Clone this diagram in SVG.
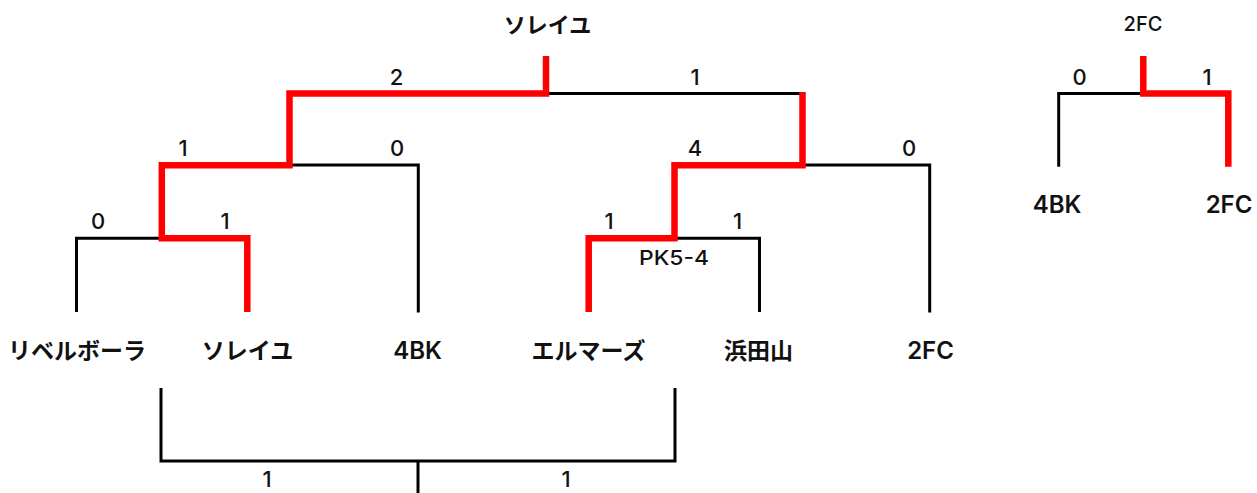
<svg xmlns="http://www.w3.org/2000/svg" width="1257" height="493" viewBox="0 0 1257 493">
<style>
  .bk { fill: none; stroke: #000; stroke-width: 3; stroke-linejoin: miter; stroke-linecap: butt; }
  .rd { fill: none; stroke: #ff0000; stroke-width: 6.5; stroke-linejoin: miter; stroke-linecap: butt; }
  text { font-family: Inter, "Noto Sans CJK JP", sans-serif; fill: #111; text-anchor: middle; }
  .team { font-size: 23px; font-weight: bold; }
  .latin { font-size: 24px; font-weight: 600; }
  .title { font-size: 22px; font-weight: bold; }
  .score { font-size: 22px; font-weight: 550; }
  .pk { font-size: 20px; font-weight: 500; }
  .title2 { font-size: 20px; font-weight: 550; }
</style>
<rect width="1257" height="493" fill="#fff"/>
<g id="connectors">
  <path class="bk" d="M76.5,312 V238.3 H161.8"/>
  <path class="bk" d="M289.5,165 H418.3 V312.5"/>
  <path class="bk" d="M546,93.5 H802.5"/>
  <path class="bk" d="M802.5,165 H929.7 V312.5"/>
  <path class="bk" d="M674.5,238.3 H759.5 V312"/>
  <path class="bk" d="M161,388 V461 H675 V388"/>
  <path class="bk" d="M418,461 V493"/>
  <path class="bk" d="M1058.7,166.7 V93.5 H1143.3"/>
  <path class="rd" d="M247.3,312 V238.3 H161.8 V165.3 H289.5 V93.5 H546 V56"/>
  <path class="rd" d="M588.7,312 V238.3 H674.5 V165.3 H802.5 V92"/>
  <path class="rd" d="M1143.3,56 V93.5 H1228.3 V166.7"/>
  <g id="scores">
    <text class="score" x="98" y="229">0</text>
    <text class="score" x="225" y="229">1</text>
    <text class="score" x="609" y="229">1</text>
    <text class="score" x="737.5" y="229">1</text>
    <text class="score" x="183" y="156">1</text>
    <text class="score" x="397" y="156">0</text>
    <text class="score" x="695" y="156">4</text>
    <text class="score" x="909" y="156">0</text>
    <text class="score" x="396.5" y="85">2</text>
    <text class="score" x="695" y="85">1</text>
    <text class="score" x="1079.5" y="84.5">0</text>
    <text class="score" x="1207" y="84.5">1</text>
    <text class="score" x="267" y="487">1</text>
    <text class="score" x="566" y="487">1</text>
    <text class="pk" x="674" y="265" textLength="70" lengthAdjust="spacingAndGlyphs">PK5-4</text>
  </g>
</g>
<g id="champion"><text class="title" x="547.5" y="33">ソレイユ</text></g>
<g id="team-riberubora"><text class="team" x="77" y="359">リベルボーラ</text></g>
<g id="team-soleil"><text class="team" x="247.5" y="359">ソレイユ</text></g>
<g id="team-4bk"><text class="latin" x="417.5" y="359">4BK</text></g>
<g id="team-elmars"><text class="team" x="588.5" y="359">エルマーズ</text></g>
<g id="team-hamadayama"><text class="team" x="758.5" y="359">浜田山</text></g>
<g id="team-2fc"><text class="latin" x="930.5" y="359">2FC</text></g>
<g id="sub-champion"><text class="title2" x="1143" y="30.7">2FC</text></g>
<g id="sub-4bk"><text class="latin" x="1057" y="213">4BK</text></g>
<g id="sub-2fc"><text class="latin" x="1229" y="213">2FC</text></g>
</svg>
